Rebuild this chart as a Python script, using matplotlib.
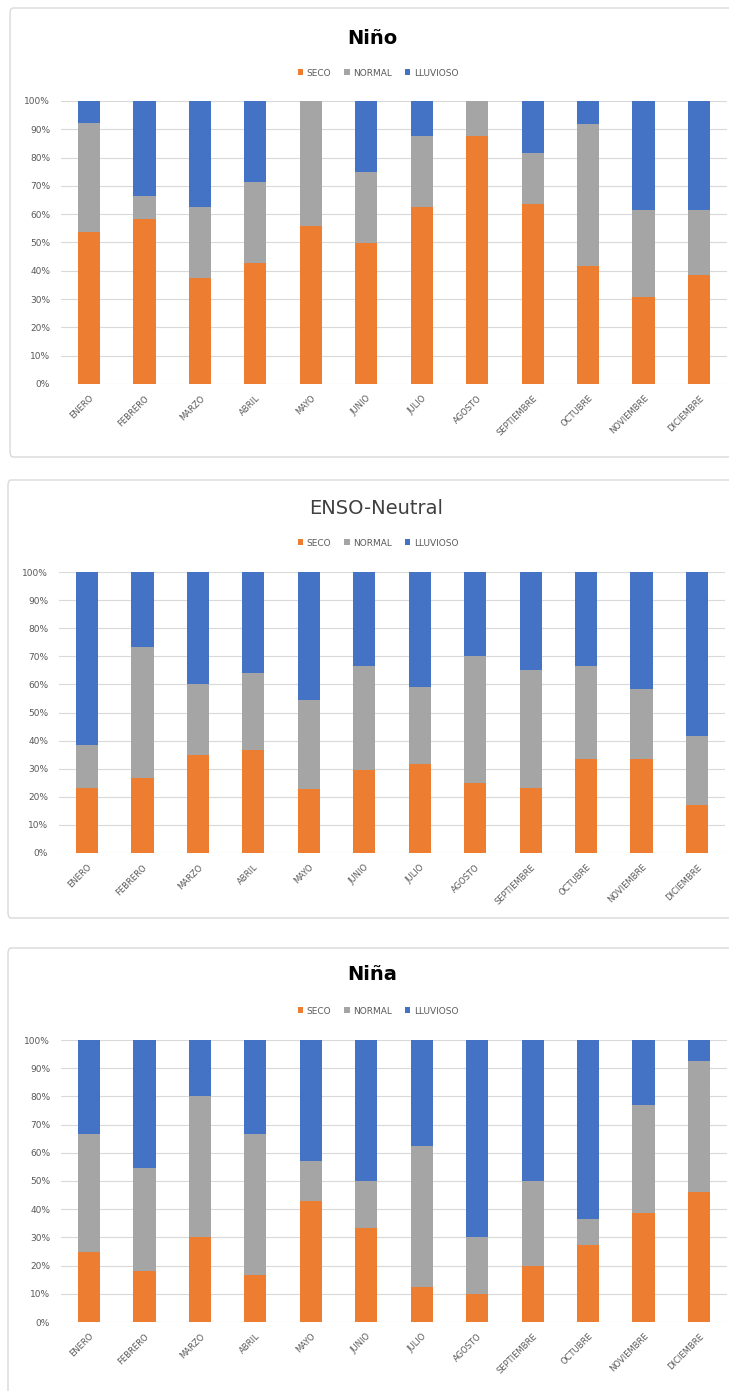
import matplotlib
matplotlib.use("Agg")
import matplotlib.pyplot as plt
from matplotlib.patches import FancyBboxPatch
from matplotlib.ticker import PercentFormatter, MultipleLocator
import numpy as np

months = ["ENERO", "FEBRERO", "MARZO", "ABRIL", "MAYO", "JUNIO", "JULIO",
          "AGOSTO", "SEPTIEMBRE", "OCTUBRE", "NOVIEMBRE", "DICIEMBRE"]
series_names = ["SECO", "NORMAL", "LLUVIOSO"]

# Niño (percent)
nino_seco = [53.8, 58.3, 37.5, 42.9, 56.0, 50.0, 62.5, 87.5, 63.6, 41.7, 30.8, 38.5]
nino_normal = [38.5, 8.3, 25.0, 28.6, 44.0, 25.0, 25.0, 12.5, 18.2, 50.0, 30.8, 23.1]
nino_lluvioso = [7.7, 33.3, 37.5, 28.6, 0.0, 25.0, 12.5, 0.0, 18.2, 8.3, 38.5, 38.5]

# ENSO-Neutral (percent)
neutral_seco = [23.1, 26.7, 35.0, 36.8, 22.7, 29.4, 31.8, 25.0, 23.1, 33.3, 33.3, 17.0]
neutral_normal = [15.4, 46.7, 25.0, 27.2, 31.8, 37.3, 27.3, 45.0, 41.9, 33.3, 25.0, 24.7]
neutral_lluvioso = [61.5, 26.7, 40.0, 36.0, 45.5, 33.3, 40.9, 30.0, 35.0, 33.3, 41.7, 58.3]

# Niña (percent)
nina_seco = [25.0, 18.2, 30.0, 16.7, 42.9, 33.3, 12.5, 10.0, 20.0, 27.3, 38.5, 46.2]
nina_normal = [41.7, 36.4, 50.0, 50.0, 14.3, 16.7, 50.0, 20.0, 30.0, 9.1, 38.5, 46.2]
nina_lluvioso = [33.3, 45.5, 20.0, 33.3, 42.9, 50.0, 37.5, 70.0, 50.0, 63.6, 23.1, 7.7]

colors = ["#ED7D31", "#A5A5A5", "#4472C4"]

W, H = 729, 1391
fig = plt.figure(figsize=(W / 100, H / 100), dpi=100)
fig.patch.set_facecolor("white")

def fx(px):
    return px / W

def fy(py):
    return 1 - py / H

panels = [
    dict(title="Niño", weight="bold", tcolor="#000000", data=(nino_seco, nino_normal, nino_lluvioso),
         frame=(10, 8, 740, 457), title_y=39, legend_y=73, ax_left=61.3, ax_top=101, ax_bot=384, title_x=372),
    dict(title="ENSO-Neutral", weight="normal", tcolor="#404040", data=(neutral_seco, neutral_normal, neutral_lluvioso),
         frame=(8, 480, 740, 918), title_y=508, legend_y=543, ax_left=59.3, ax_top=572, ax_bot=853, title_x=376),
    dict(title="Niña", weight="bold", tcolor="#000000", data=(nina_seco, nina_normal, nina_lluvioso),
         frame=(8, 948, 740, 1400), title_y=975, legend_y=1011, ax_left=61.3, ax_top=1040, ax_bot=1322, title_x=372),
]

ax_width_px = 665.4

for p in panels:
    x0, y0, x1, y1 = p["frame"]
    frame = FancyBboxPatch((fx(x0), fy(y1)), fx(x1) - fx(x0), fy(y0) - fy(y1),
                           boxstyle="round,pad=0,rounding_size=0.004",
                           transform=fig.transFigure, facecolor="none",
                           edgecolor="#D9D9D9", linewidth=1.0, zorder=-10)
    fig.patches.append(frame)

    ax = fig.add_axes([fx(p["ax_left"]), fy(p["ax_bot"]), ax_width_px / W,
                       (p["ax_bot"] - p["ax_top"]) / H])
    ax.set_facecolor("none")
    x = np.arange(len(months))
    bottom = np.zeros(len(months))
    handles = []
    for vals, c, name in zip(p["data"], colors, series_names):
        h = ax.bar(x, vals, width=0.4, bottom=bottom, color=c, label=name, zorder=3)
        handles.append(h)
        bottom = bottom + np.array(vals)
    ax.set_xlim(-0.5, len(months) - 0.5)
    ax.set_ylim(0, 100)
    ax.yaxis.set_major_locator(MultipleLocator(10))
    ax.yaxis.set_major_formatter(PercentFormatter(100, decimals=0))
    ax.grid(axis="y", color="#D9D9D9", linewidth=0.8, zorder=0)
    ax.set_axisbelow(True)
    for s in ax.spines.values():
        s.set_visible(False)
    ax.tick_params(axis="both", length=0, colors="#595959", labelsize=6.5)
    ax.tick_params(axis="y", pad=8)
    ax.set_xticks(x)
    ax.set_xticklabels(months, rotation=45, ha="right", rotation_mode="anchor",
                       fontsize=6, color="#595959")
    ax.tick_params(axis="x", pad=7)

    fig.text(fx(p["title_x"]), fy(p["title_y"]), p["title"], ha="center", va="center",
             fontsize=14, fontweight=p["weight"], color=p["tcolor"])
    fig.legend(handles=handles, labels=series_names, loc="center",
               bbox_to_anchor=(fx(378), fy(p["legend_y"])), ncol=3, frameon=False,
               fontsize=6.5, handlelength=0.6, handleheight=0.6, handletextpad=0.4,
               columnspacing=1.4, labelcolor="#595959")

fig.savefig("out.png", dpi=100, facecolor="white")
